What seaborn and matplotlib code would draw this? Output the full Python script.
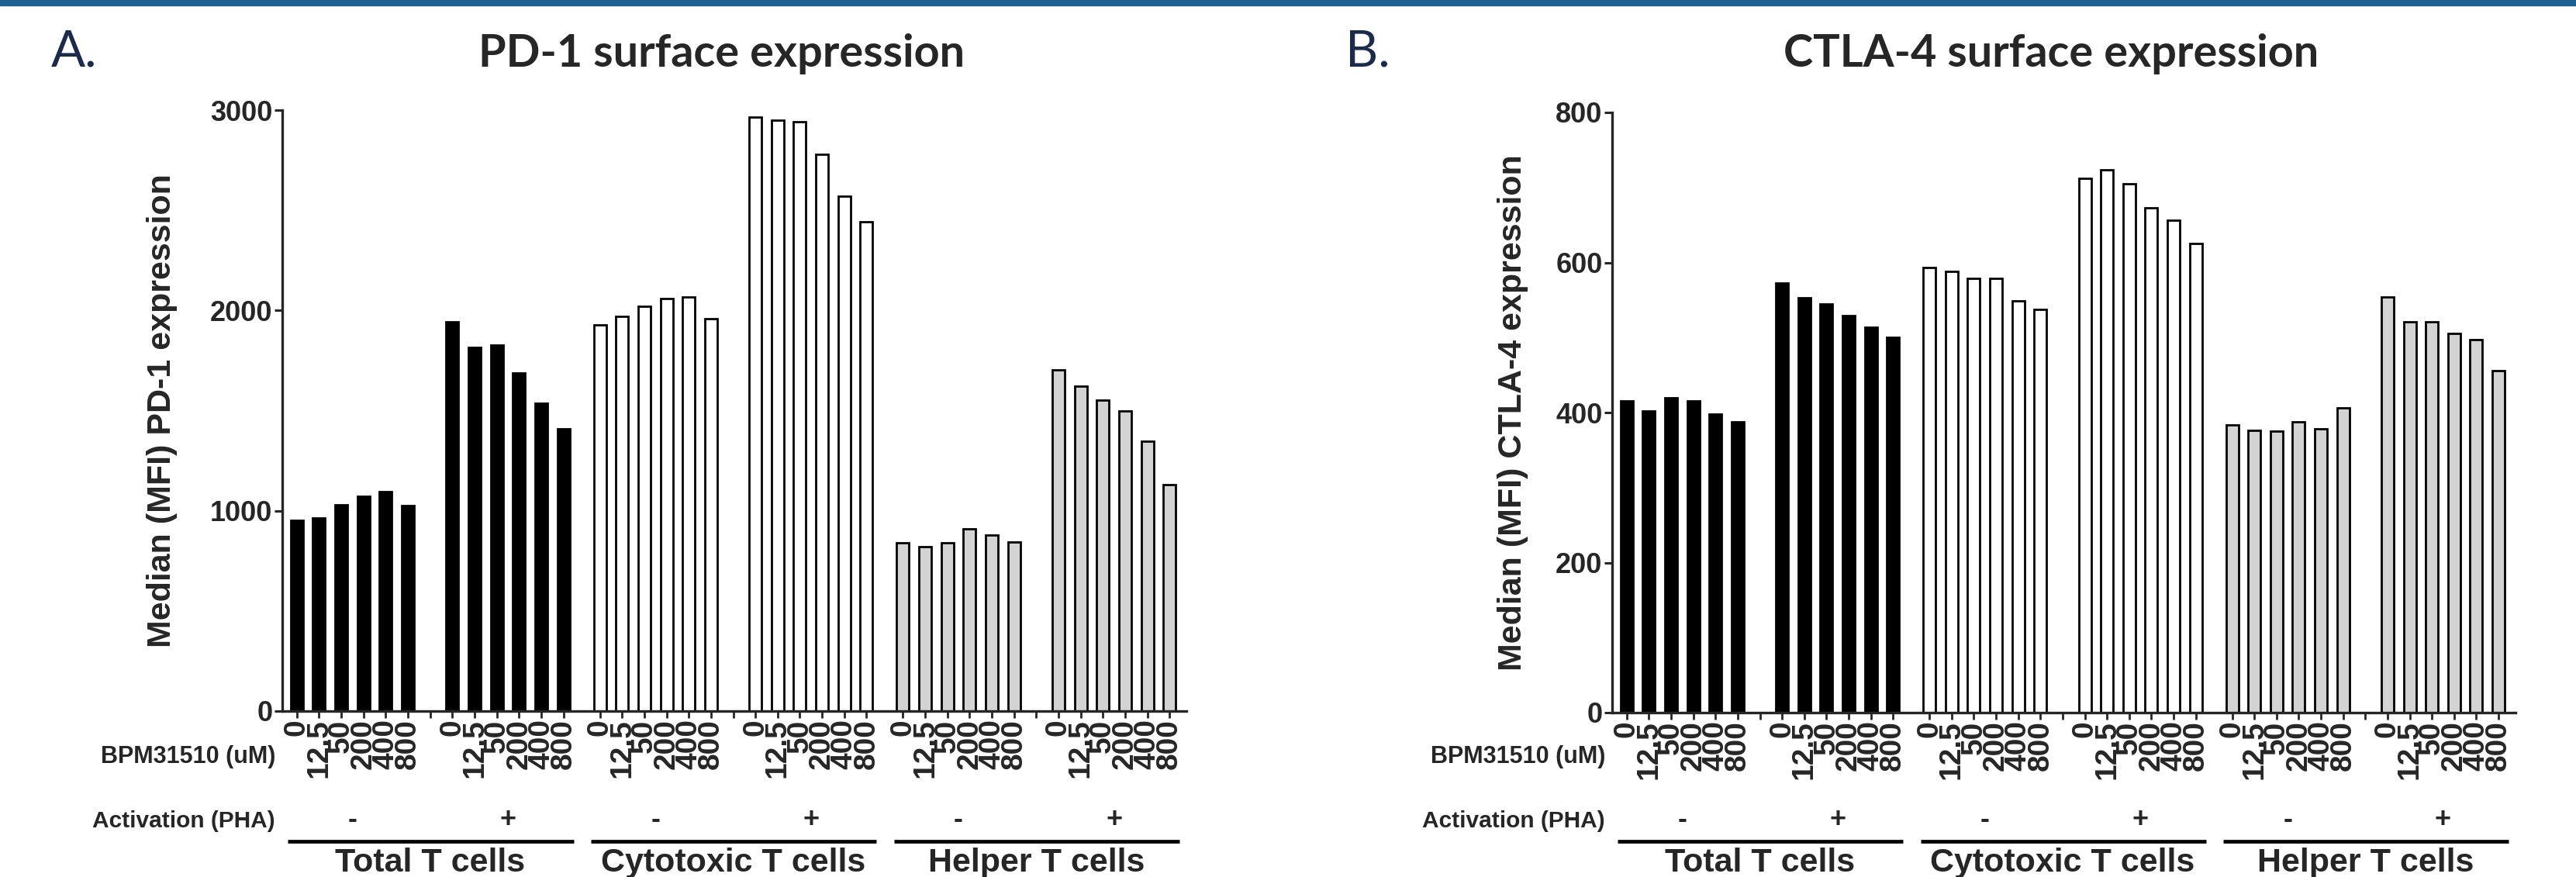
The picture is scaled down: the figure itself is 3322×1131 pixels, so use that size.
import matplotlib
matplotlib.use("Agg")
import matplotlib.pyplot as plt
import matplotlib.transforms as mtransforms
from matplotlib.patches import Rectangle
import numpy as np
import pandas as pd
import seaborn as sns

# doses of BPM31510 (uM) and grouping
doses = ["0", "12.5", "50", "200", "400", "800"]
activation = ["-", "+"]
cell_types = ["Total T cells", "Cytotoxic T cells", "Helper T cells"]
cell_colors = ["#000000", "#ffffff", "#d3d3d3"]

# PD-1 median MFI: 6 doses without PHA, then 6 doses with PHA
pd1_total = [953, 962, 1031, 1073, 1094, 1027, 1942, 1816, 1829, 1687, 1538, 1408]
pd1_cytotoxic = [1927, 1969, 2022, 2059, 2066, 1959, 2967, 2948, 2943, 2778, 2571, 2441]
pd1_helper = [841, 820, 841, 910, 879, 845, 1705, 1622, 1553, 1498, 1346, 1129]

# CTLA-4 median MFI
ctla4_total = [416, 402, 420, 415, 398, 388, 573, 553, 545, 529, 514, 500]
ctla4_cytotoxic = [593, 588, 579, 579, 549, 537, 712, 724, 705, 673, 656, 625]
ctla4_helper = [383, 376, 375, 388, 378, 406, 554, 521, 521, 505, 497, 456]

W, H = 3323, 1131
BLOCK = 13.64  # distance between cell type blocks, in bar slots


def slot_positions():
    within = list(range(6)) + list(range(7, 13))
    return [b * BLOCK + s for b in range(3) for s in within]


def make_df(total, cyto, helper):
    vals = total + cyto + helper
    cells = [c for c in cell_types for _ in range(12)]
    return pd.DataFrame({"pos": slot_positions(), "value": vals, "cell": cells})


sns.set_style("ticks")
plt.rcParams["font.family"] = ["Liberation Sans", "DejaVu Sans"]
plt.rcParams["font.weight"] = "bold"

fig = plt.figure(figsize=(W / 100, H / 100), dpi=100)
fig.patches.append(Rectangle((0, 1 - 7 / H), 1, 7 / H, transform=fig.transFigure,
                             color="#1f5f91", zorder=10))


def px_box(left, right, top, bottom):
    return [left / W, 1 - bottom / H, (right - left) / W, (bottom - top) / H]


def fy(py):
    return 1 - py / H


def draw_panel(ax, df, ymax, yticks, ylabel, title, letter, letter_x, label_x):
    pal = dict(zip(cell_types, cell_colors))
    sns.barplot(data=df, x="pos", y="value", hue="cell", palette=pal,
                native_scale=True, dodge=False, width=0.56, saturation=1,
                errorbar=None, edgecolor="black", linewidth=2.0,
                legend=False, ax=ax)
    ax.set_xlim(-0.67, 40.04)
    ax.set_ylim(0, ymax)
    ax.set_yticks(yticks)
    ax.set_yticklabels([str(t) for t in yticks], fontsize=26, fontweight="bold")
    ax.set_ylabel(ylabel, fontsize=31, fontweight="bold")
    ax.yaxis.set_label_coords(label_x, 0.5)
    ax.set_xlabel("")

    ticks, labels = [], []
    for b in range(3):
        for s in range(13):
            ticks.append(b * BLOCK + s)
            labels.append("" if s == 6 else doses[s % 7])
    ax.set_xticks(ticks)
    ax.set_xticklabels(labels, rotation=90, fontsize=28, fontweight="bold",
                       ha="center", va="top")

    sns.despine(ax=ax)
    for side in ["left", "bottom"]:
        ax.spines[side].set_linewidth(2.4)
    ax.tick_params(axis="y", length=7.2, width=2.2, pad=1.5)
    ax.tick_params(axis="x", length=6.5, width=2.0, pad=1.0)

    trans = mtransforms.blended_transform_factory(ax.transData, fig.transFigure)
    x0 = ax.get_xlim()[0] - 0.3
    ax.text(x0, fy(976), "BPM31510 (uM)", transform=trans, ha="right",
            va="center", fontsize=22, fontweight="bold")
    ax.text(x0, fy(1059), "Activation (PHA)", transform=trans, ha="right",
            va="center", fontsize=21.5, fontweight="bold")
    for b, name in enumerate(cell_types):
        off = b * BLOCK
        for k, sign in enumerate(activation):
            ax.text(off + 2.5 + 7 * k, fy(1058), sign, transform=trans,
                    ha="center", va="center", fontsize=26, fontweight="bold")
        ax.plot([off - 0.4, off + 12.45], [fy(1085), fy(1085)], transform=trans,
                color="black", lw=3.4, clip_on=False, solid_capstyle="butt")
        ax.text(off + 6, fy(1093), name, transform=trans, ha="center",
                va="top", fontsize=31, fontweight="bold")

    bbox = ax.get_position()
    fig.text(bbox.x0 + bbox.width / 2 - 16 / W, fy(70), title, ha="center",
             va="center", fontsize=41.5, fontweight="bold", family=["Lato", "DejaVu Sans"])
    fig.text(letter_x / W, fy(86), letter, ha="left", va="baseline",
             fontsize=47, fontweight="normal", color="#1b2b4b",
             family=["Lato", "DejaVu Sans"])


axA = fig.add_axes(px_box(363.6, 1530, 142, 917))
draw_panel(axA, make_df(pd1_total, pd1_cytotoxic, pd1_helper), 3000,
           [0, 1000, 2000, 3000], "Median (MFI) PD-1 expression",
           "PD-1 surface expression", "A.", 66, -0.115)

axB = fig.add_axes(px_box(2078.6, 3243.8, 145, 919))
draw_panel(axB, make_df(ctla4_total, ctla4_cytotoxic, ctla4_helper), 800,
           [0, 200, 400, 600, 800], "Median (MFI) CTLA-4 expression",
           "CTLA-4 surface expression", "B.", 1735, -0.092)

fig.savefig("out.png", dpi=100)
